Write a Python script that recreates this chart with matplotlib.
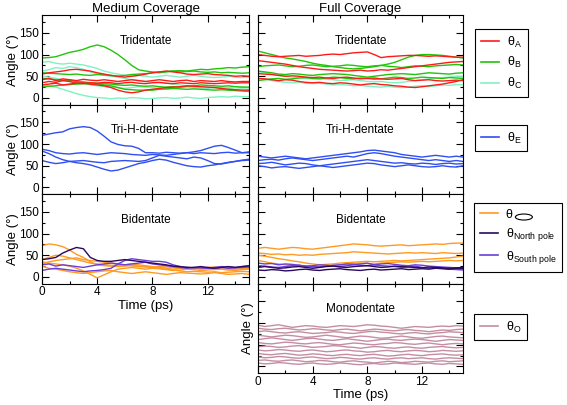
import numpy as np
import matplotlib
matplotlib.use("Agg")
import matplotlib.pyplot as plt
from matplotlib.lines import Line2D
from matplotlib.patches import Ellipse
from matplotlib.ticker import MultipleLocator

plt.rcParams['font.family'] = ['Liberation Sans', 'DejaVu Sans']
plt.rcParams['mathtext.fontset'] = 'custom'
plt.rcParams['mathtext.rm'] = 'Liberation Sans'

# time axis (ps), one sample every 0.5 ps
t = np.arange(0, 15.01, 0.5)

# ------------------------------ medium coverage, tridentate ------------------------------#
med_tri_A = [
    [55, 58, 60, 62, 65, 66, 64, 62, 58, 55, 52, 50, 48, 50, 52, 55, 58, 60, 62, 60, 58, 55, 54, 55, 56, 54, 53, 52, 50, 51, 50],
    [42, 45, 40, 44, 42, 40, 43, 41, 40, 42, 40, 38, 40, 42, 40, 38, 40, 42, 40, 38, 40, 41, 38, 40, 39, 38, 40, 38, 37, 38, 38],
    [35, 38, 36, 40, 38, 34, 35, 32, 30, 28, 24, 18, 14, 12, 14, 18, 20, 22, 24, 25, 26, 28, 27, 26, 25, 24, 22, 20, 19, 18, 18],
    [30, 32, 34, 30, 32, 34, 33, 35, 34, 36, 35, 33, 35, 36, 34, 33, 35, 36, 34, 33, 35, 34, 33, 35, 34, 33, 34, 35, 34, 35, 35],
]
med_tri_B = [
    [92, 93, 95, 100, 105, 108, 112, 118, 122, 118, 110, 100, 88, 75, 65, 62, 60, 58, 60, 62, 63, 62, 64, 66, 65, 67, 68, 70, 69, 71, 72],
    [58, 57, 56, 55, 54, 55, 53, 52, 54, 53, 52, 50, 52, 54, 55, 56, 58, 60, 61, 62, 60, 61, 62, 60, 59, 60, 58, 59, 58, 57, 58],
    [45, 44, 42, 40, 41, 38, 37, 35, 34, 33, 32, 30, 29, 30, 28, 27, 28, 26, 25, 26, 25, 27, 28, 30, 29, 28, 27, 28, 26, 25, 25],
    [25, 27, 28, 30, 31, 32, 33, 32, 32, 30, 28, 24, 20, 19, 18, 18, 18, 20, 21, 22, 21, 20, 21, 20, 19, 18, 19, 18, 17, 16, 15],
]
med_tri_C = [
    [82, 84, 80, 78, 80, 78, 76, 72, 68, 62, 58, 55, 52, 50, 52, 50, 48, 50, 52, 50, 48, 50, 52, 50, 48, 47, 48, 50, 48, 47, 48],
    [62, 65, 70, 68, 72, 70, 66, 60, 55, 52, 50, 48, 45, 42, 40, 38, 36, 35, 34, 32, 30, 28, 27, 26, 25, 24, 22, 22, 20, 21, 20],
    [30, 28, 25, 20, 15, 10, 6, 3, 1, 0, -2, 0, -1, 1, 0, -2, -1, 0, 1, -1, 0, 2, 0, -1, 1, 2, 3, 2, 4, 3, 3],
    [50, 48, 45, 42, 38, 36, 34, 30, 28, 26, 25, 24, 22, 24, 26, 25, 24, 22, 20, 22, 24, 25, 24, 23, 22, 24, 25, 24, 26, 25, 24],
]

# ------------------------------ full coverage, tridentate ------------------------------#
full_tri_A = [
    [100, 98, 96, 95, 96, 97, 98, 96, 97, 98, 100, 101, 100, 102, 104, 105, 106, 100, 93, 95, 96, 97, 98, 98, 97, 96, 97, 96, 95, 94, 94],
    [86, 84, 82, 80, 78, 75, 72, 70, 68, 66, 65, 64, 63, 62, 63, 64, 62, 63, 65, 64, 66, 68, 70, 72, 74, 76, 78, 80, 82, 83, 84],
    [56, 55, 54, 52, 50, 51, 50, 48, 47, 48, 46, 45, 47, 48, 46, 44, 45, 46, 44, 43, 44, 45, 42, 40, 41, 42, 40, 39, 40, 41, 40],
    [45, 44, 42, 40, 42, 41, 38, 36, 35, 36, 34, 33, 35, 34, 32, 30, 32, 33, 31, 30, 28, 27, 25, 24, 26, 28, 30, 32, 35, 38, 42],
]
full_tri_B = [
    [108, 104, 100, 96, 92, 90, 87, 84, 80, 77, 75, 72, 70, 68, 67, 68, 70, 72, 75, 78, 82, 88, 94, 98, 100, 100, 99, 98, 96, 94, 92],
    [72, 74, 75, 76, 74, 72, 73, 75, 76, 74, 72, 73, 74, 76, 75, 73, 72, 74, 75, 73, 72, 70, 72, 74, 73, 72, 74, 75, 76, 77, 76],
    [62, 60, 58, 55, 54, 56, 55, 53, 52, 54, 55, 56, 55, 54, 52, 50, 48, 50, 52, 54, 55, 56, 55, 54, 56, 58, 57, 56, 55, 57, 58],
    [40, 42, 44, 45, 43, 44, 46, 47, 45, 44, 46, 48, 47, 45, 44, 46, 45, 43, 44, 46, 48, 47, 45, 46, 48, 47, 46, 45, 47, 46, 45],
]
full_tri_C = [
    [60, 58, 55, 52, 50, 48, 47, 45, 44, 45, 43, 42, 40, 41, 42, 40, 38, 37, 38, 36, 35, 36, 38, 40, 42, 44, 46, 47, 48, 50, 50],
    [45, 43, 40, 38, 36, 35, 36, 34, 33, 34, 32, 30, 31, 30, 28, 29, 27, 26, 25, 27, 25, 24, 25, 27, 28, 26, 28, 30, 29, 31, 30],
]

# ------------------------------ tri-H-dentate ------------------------------#
med_trih_E = [
    [120, 123, 126, 128, 135, 138, 140, 138, 130, 118, 105, 99, 96, 95, 90, 80, 80, 79, 81, 80, 79, 80, 78, 80, 79, 78, 80, 81, 79, 80, 80],
    [88, 85, 80, 78, 77, 79, 80, 78, 76, 78, 80, 79, 78, 76, 75, 74, 76, 75, 74, 76, 78, 80, 82, 85, 90, 95, 97, 92, 86, 80, 82],
    [84, 78, 70, 64, 60, 57, 55, 52, 47, 42, 38, 40, 45, 50, 55, 58, 62, 65, 63, 58, 54, 50, 48, 47, 50, 52, 55, 58, 60, 62, 63],
    [62, 58, 55, 57, 60, 61, 62, 60, 58, 57, 60, 61, 62, 61, 60, 62, 68, 74, 72, 70, 68, 66, 70, 68, 62, 55, 54, 57, 60, 63, 65],
]
full_trih_E = [
    [72, 70, 68, 70, 72, 70, 68, 66, 68, 70, 72, 74, 76, 78, 80, 82, 85, 86, 84, 82, 80, 76, 74, 72, 70, 72, 74, 72, 70, 72, 70],
    [62, 64, 65, 63, 66, 68, 66, 64, 62, 64, 66, 68, 70, 72, 70, 74, 78, 80, 78, 75, 72, 70, 68, 66, 64, 62, 64, 62, 60, 62, 60],
    [55, 56, 58, 55, 52, 54, 56, 55, 52, 50, 52, 54, 56, 58, 60, 62, 64, 62, 60, 58, 56, 57, 55, 54, 56, 55, 53, 55, 56, 54, 55],
    [50, 48, 45, 47, 48, 46, 44, 46, 48, 50, 48, 46, 48, 50, 52, 54, 56, 55, 52, 50, 48, 50, 52, 50, 48, 47, 48, 50, 48, 47, 50],
]

# ------------------------------ bidentate ------------------------------#
med_bi_ell = [
    [72, 76, 74, 70, 62, 52, 45, 35, 28, 26, 25, 24, 25, 26, 24, 23, 22, 24, 23, 22, 20, 22, 21, 20, 22, 23, 22, 20, 21, 22, 22],
    [35, 32, 30, 28, 25, 20, 14, 6, -2, 5, 12, 18, 20, 22, 20, 18, 20, 19, 17, 15, 16, 18, 17, 15, 16, 17, 18, 16, 15, 17, 18],
    [30, 35, 38, 40, 42, 44, 40, 38, 36, 34, 32, 30, 28, 26, 25, 24, 22, 20, 18, 16, 14, 12, 13, 12, 11, 12, 10, 11, 12, 13, 12],
    [25, 20, 18, 15, 12, 10, 8, 10, 12, 14, 15, 12, 10, 8, 10, 12, 10, 8, 6, 8, 10, 9, 8, 7, 8, 10, 8, 6, 7, 8, 6],
    [40, 45, 50, 48, 44, 40, 36, 32, 30, 28, 27, 26, 28, 30, 28, 26, 24, 22, 20, 18, 20, 22, 20, 18, 19, 20, 18, 17, 18, 19, 20],
]
med_bi_north = [
    [40, 42, 45, 55, 62, 68, 65, 45, 38, 36, 36, 38, 40, 38, 36, 34, 32, 30, 28, 25, 24, 22, 22, 24, 22, 20, 22, 24, 22, 24, 26],
]
med_bi_south = [
    [15, 18, 20, 18, 16, 14, 12, 14, 15, 17, 20, 30, 38, 42, 40, 38, 36, 36, 34, 28, 24, 22, 21, 22, 20, 21, 22, 20, 21, 22, 23],
    [28, 30, 25, 28, 26, 24, 22, 25, 28, 30, 32, 30, 28, 30, 32, 34, 30, 28, 26, 24, 22, 20, 22, 21, 20, 22, 24, 23, 22, 24, 25],
]
full_bi_ell = [
    [66, 68, 66, 64, 66, 68, 67, 65, 64, 66, 68, 70, 72, 74, 76, 75, 74, 72, 71, 72, 73, 74, 72, 73, 74, 75, 76, 75, 77, 78, 78],
    [55, 54, 52, 53, 51, 52, 50, 51, 50, 52, 53, 54, 55, 56, 58, 57, 56, 55, 54, 53, 54, 55, 56, 55, 56, 55, 54, 56, 55, 54, 55],
    [50, 48, 45, 42, 40, 37, 35, 32, 30, 28, 29, 30, 32, 33, 34, 35, 36, 35, 36, 37, 38, 37, 38, 39, 40, 41, 42, 43, 44, 46, 48],
    [38, 35, 32, 30, 28, 26, 25, 24, 23, 24, 25, 26, 28, 30, 31, 32, 31, 30, 32, 33, 34, 35, 34, 35, 36, 35, 36, 37, 38, 37, 38],
]
full_bi_north = [
    [16, 15, 17, 16, 14, 15, 17, 18, 16, 15, 17, 18, 19, 17, 16, 15, 17, 18, 16, 17, 18, 19, 17, 18, 19, 18, 20, 19, 18, 20, 19],
    [22, 24, 22, 20, 21, 23, 24, 22, 20, 22, 24, 25, 23, 22, 24, 25, 26, 24, 22, 23, 25, 24, 23, 22, 21, 23, 22, 21, 20, 21, 22],
]
full_bi_south = [
    [32, 30, 31, 28, 30, 29, 27, 25, 26, 28, 27, 25, 24, 26, 28, 30, 32, 28, 26, 25, 24, 22, 23, 25, 22, 20, 22, 20, 18, 17, 16],
    [26, 25, 23, 22, 24, 26, 27, 25, 24, 23, 25, 27, 28, 30, 29, 27, 26, 28, 30, 31, 29, 27, 26, 28, 27, 25, 24, 23, 22, 21, 20],
]

# ------------------------------ monodentate (full coverage only) ------------------------------#
full_mono_O = [
    [95, 92, 94, 96, 93, 90, 92, 94, 93, 91, 90, 92, 94, 93, 92, 94, 96, 95, 93, 92, 90, 88, 90, 92, 91, 90, 92, 93, 92, 94, 93],
    [88, 86, 85, 87, 88, 86, 84, 85, 87, 86, 84, 83, 85, 86, 84, 82, 84, 86, 85, 83, 82, 84, 85, 83, 82, 80, 82, 84, 83, 85, 86],
    [80, 82, 80, 78, 77, 79, 80, 78, 76, 77, 78, 80, 79, 77, 76, 78, 80, 81, 79, 78, 76, 75, 77, 78, 76, 75, 77, 78, 80, 79, 78],
    [72, 70, 68, 70, 72, 71, 69, 67, 68, 70, 72, 70, 68, 66, 68, 70, 69, 67, 65, 66, 68, 70, 68, 66, 65, 67, 69, 70, 68, 67, 66],
    [62, 64, 66, 64, 62, 60, 62, 64, 65, 63, 61, 60, 62, 64, 62, 60, 58, 60, 62, 63, 61, 60, 62, 63, 62, 60, 58, 60, 62, 61, 60],
    [55, 53, 52, 54, 56, 55, 53, 52, 54, 55, 53, 51, 50, 52, 54, 53, 51, 50, 52, 53, 55, 54, 52, 51, 53, 54, 52, 50, 52, 53, 52],
    [45, 47, 46, 44, 45, 47, 48, 46, 44, 45, 46, 48, 47, 45, 44, 42, 44, 46, 45, 43, 42, 44, 45, 43, 42, 44, 45, 46, 44, 43, 44],
    [38, 36, 37, 39, 38, 36, 35, 37, 38, 36, 34, 35, 37, 38, 36, 35, 33, 34, 36, 37, 35, 34, 36, 37, 36, 34, 35, 37, 36, 35, 36],
    [30, 28, 27, 29, 30, 28, 26, 27, 29, 28, 26, 25, 27, 28, 26, 25, 27, 28, 26, 24, 25, 27, 28, 26, 25, 27, 28, 29, 27, 26, 27],
    [22, 20, 21, 23, 22, 20, 19, 21, 22, 20, 18, 19, 21, 20, 18, 17, 19, 20, 18, 17, 19, 20, 18, 19, 20, 18, 17, 19, 20, 19, 18],
    [14, 15, 13, 12, 14, 15, 13, 11, 12, 14, 13, 11, 10, 12, 13, 11, 10, 8, 10, 12, 11, 9, 10, 12, 11, 10, 12, 13, 11, 12, 13],
    [8, 6, 7, 9, 8, 6, 5, 7, 8, 6, 5, 6, 8, 7, 5, 4, 6, 7, 5, 6, 8, 7, 6, 5, 7, 8, 6, 5, 7, 6, 5],
]

c_A = '#ff1a1a'
c_B = '#22c40a'
c_C = '#80f2c0'
c_E = '#2f4ff2'
c_ell = '#ff9a22'
c_north = '#2a0860'
c_south = '#6a3fd8'
c_O = '#c48ea2'
lw = 1.0

W, H = 567, 405
fig = plt.figure(figsize=(W / 100, H / 100), dpi=100)

col_left = [42, 207]
col_right = [258, 205]
row_tops = [15, 104.5, 194, 283.5]
row_h = 89.5


def make_ax(col, row):
    x0, w = col
    top = row_tops[row]
    ax = fig.add_axes([x0 / W, 1 - (top + row_h) / H, w / W, row_h / H])
    ax.set_xlim(0, 15)
    ax.set_ylim(-15, 191)
    ax.xaxis.set_major_locator(MultipleLocator(4))
    ax.xaxis.set_minor_locator(MultipleLocator(2))
    ax.yaxis.set_major_locator(MultipleLocator(50))
    ax.yaxis.set_minor_locator(MultipleLocator(25))
    ax.tick_params(which='both', direction='in', top=True, right=True,
                   labelsize=8.5, pad=2, width=0.8)
    ax.tick_params(which='major', length=5)
    ax.tick_params(which='minor', length=2.5)
    ax.tick_params(labelbottom=False, labelleft=False)
    for s in ax.spines.values():
        s.set_linewidth(0.8)
    return ax


def draw(ax, series, color):
    for y in series:
        ax.plot(t, y, color=color, lw=lw)


# medium coverage column
ax1 = make_ax(col_left, 0)
draw(ax1, med_tri_C, c_C)
draw(ax1, med_tri_B, c_B)
draw(ax1, med_tri_A, c_A)
ax1.set_title('Medium Coverage', fontsize=9.5, pad=2)

ax2 = make_ax(col_left, 1)
draw(ax2, med_trih_E, c_E)

ax3 = make_ax(col_left, 2)
draw(ax3, med_bi_ell, c_ell)
draw(ax3, med_bi_south, c_south)
draw(ax3, med_bi_north, c_north)
ax3.tick_params(labelbottom=True)
ax3.set_xlabel('Time (ps)', fontsize=9.5, labelpad=1)

for ax in (ax1, ax2, ax3):
    ax.tick_params(labelleft=True)
    ax.set_ylabel('Angle (°)', fontsize=9.5)
    ax.yaxis.set_label_coords(-0.11, 0.5)

# full coverage column
ax4 = make_ax(col_right, 0)
draw(ax4, full_tri_C, c_C)
draw(ax4, full_tri_B, c_B)
draw(ax4, full_tri_A, c_A)
ax4.set_title('Full Coverage', fontsize=9.5, pad=2)

ax5 = make_ax(col_right, 1)
draw(ax5, full_trih_E, c_E)

ax6 = make_ax(col_right, 2)
draw(ax6, full_bi_ell, c_ell)
draw(ax6, full_bi_south, c_south)
draw(ax6, full_bi_north, c_north)

ax7 = make_ax(col_right, 3)
draw(ax7, full_mono_O, c_O)
ax7.tick_params(labelbottom=True)
ax7.set_xlabel('Time (ps)', fontsize=9.5, labelpad=1)
ax7.set_ylabel('Angle (°)', fontsize=9.5)
ax7.yaxis.set_label_coords(-0.02, 0.5)

# panel names
for ax, name in [(ax1, 'Tridentate'), (ax4, 'Tridentate'),
                 (ax2, 'Tri-H-dentate'), (ax5, 'Tri-H-dentate'),
                 (ax3, 'Bidentate'), (ax6, 'Bidentate'),
                 (ax7, 'Monodentate')]:
    ax.text(0.5, 0.71, name, transform=ax.transAxes, ha='center', va='center', fontsize=8.5)

# legends in the right margin
leg_kw = dict(loc='upper left', fontsize=9, frameon=True, fancybox=False,
              edgecolor='black', framealpha=1, handlelength=1.5, handletextpad=0.6,
              labelspacing=0.45, borderaxespad=0, borderpad=0.45)


def fig_legend(handles, labels, x, y):
    leg = fig.legend(handles, labels, bbox_to_anchor=(x / W, 1 - y / H), **leg_kw)
    leg.get_frame().set_linewidth(0.8)
    return leg


fig_legend([Line2D([], [], color=c, lw=1.2) for c in (c_A, c_B, c_C)],
           ['θ$_\\mathrm{A}$', 'θ$_\\mathrm{B}$', 'θ$_\\mathrm{C}$'], 475, 29)
fig_legend([Line2D([], [], color=c_E, lw=1.2)], ['θ$_\\mathrm{E}$'], 475, 125)
leg3 = fig_legend([Line2D([], [], color=c, lw=1.2) for c in (c_ell, c_north, c_south)],
                  ['θ      ', 'θ$_{\\mathrm{North\\ pole}}$', 'θ$_{\\mathrm{South\\ pole}}$'], 474, 203)
fig_legend([Line2D([], [], color=c_O, lw=1.2)], ['θ$_\\mathrm{O}$'], 474, 314)

# the ellipse symbol used as subscript in the bidentate legend, placed after the first theta
fig.canvas.draw()
txt = leg3.get_texts()[0]
renderer = fig.canvas.get_renderer()
bb = txt.get_window_extent(renderer)
theta_w = bb.height * 0.5
ex = bb.x0 + theta_w + 12
ey = bb.y0 + bb.height * 0.3
fig.add_artist(Ellipse((ex / W, ey / H), 17 / W, 6 / H, transform=fig.transFigure,
                       fill=False, edgecolor='black', lw=0.8, zorder=20))

fig.savefig('out.png', dpi=100)
